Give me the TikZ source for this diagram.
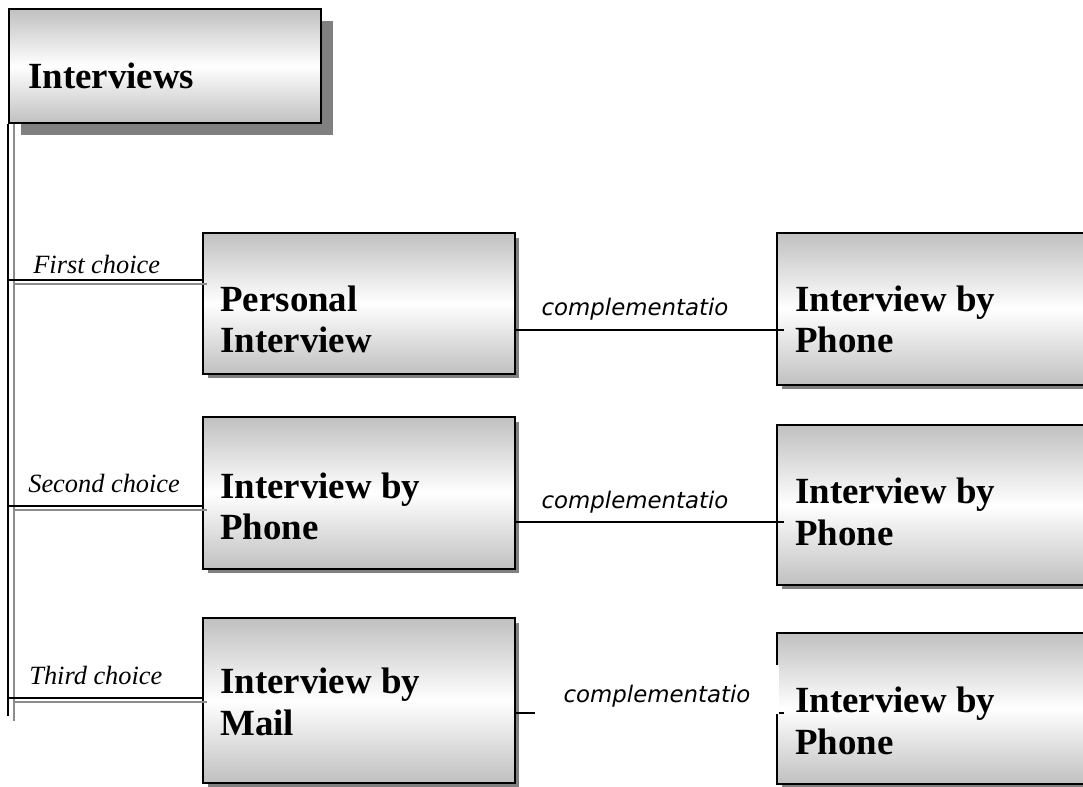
\documentclass[tikz,border=0pt]{standalone}
\usepackage{fontspec}
\setmainfont{Liberation Serif}
\newfontfamily\tahomalike{DejaVu Sans}
\usetikzlibrary{calc,shadows}

\definecolor{boxgray}{RGB}{192,192,192}
\definecolor{shadowgray}{RGB}{128,128,128}
\definecolor{linegray}{RGB}{140,140,140}

\tikzset{
  shadedbox/.style={draw=black, line width=1.1pt, top color=boxgray,
    bottom color=boxgray, middle color=white, inner sep=0pt},
  bigshadow/.style={drop shadow={shadow xshift=0.24cm, shadow yshift=-0.24cm,
    fill=shadowgray, opacity=1}},
  smallshadow/.style={drop shadow={shadow xshift=0.09cm, shadow yshift=-0.09cm,
    fill=shadowgray, opacity=1}},
  boxtext/.style={anchor=base west, inner sep=0pt, align=left,
    font=\fontsize{21}{23.5}\selectfont\bfseries},
  choicetext/.style={anchor=base west, inner sep=0pt,
    font=\fontsize{15}{17}\selectfont\itshape},
  comptext/.style={anchor=base, inner sep=0pt,
    font=\fontsize{13}{15}\selectfont\tahomalike\itshape},
  blackline/.style={draw=black, line width=0.8pt},
  grayline/.style={draw=linegray, line width=1.1pt},
}

\begin{document}
\begin{tikzpicture}[x=0.02cm, y=-0.02cm]
    \useasboundingbox (0,0) rectangle (1083,787);
    \clip (0,0) rectangle (1083,787);

    %Interviews
    \node[shadedbox, bigshadow, minimum width=6.24cm, minimum height=2.28cm] (interviews) at (165,66) {};
    \node[boxtext] (interviews-t) at (28,89) {Interviews};

    %first column (base = last line)
    \node[shadedbox, smallshadow, minimum width=6.24cm, minimum height=2.82cm] (personal) at (359,303.5) {};
    \node[boxtext] (personal-t) at (220,353) {Personal\\Interview};
    \node[shadedbox, smallshadow, minimum width=6.24cm, minimum height=3.04cm] (phone) at (359,493) {};
    \node[boxtext] (phone-t) at (220,540) {Interview by\\Phone};
    \node[shadedbox, smallshadow, minimum width=6.24cm, minimum height=3.30cm] (mail) at (359,700.5) {};
    \node[boxtext] (mail-t) at (220,735) {Interview by\\Mail};

    %second column
    \node[shadedbox, smallshadow, minimum width=6.8cm, minimum height=3.04cm] (phoneA) at (947,309) {};
    \node[boxtext] (phoneA-t) at (795,353) {Interview by\\Phone};
    \node[shadedbox, smallshadow, minimum width=6.8cm, minimum height=3.20cm] (phoneB) at (947,505) {};
    \node[boxtext] (phoneB-t) at (795,545) {Interview by\\Phone};
    \node[shadedbox, smallshadow, minimum width=6.8cm, minimum height=3.02cm] (phoneC) at (947,708.5) {};
    \node[boxtext] (phoneC-t) at (795,754) {Interview by\\Phone};

    %trunk
    \coordinate (trunkend) at (9,716);
    \coordinate (grayend) at (14,721);
    \draw[blackline] (interviews.south west) -- (interviews.south west |- trunkend);
    \draw[grayline] (grayend |- interviews.south) -- (grayend);

    %choices
    \draw[blackline] (interviews.south west |- 0,280) -- (personal.west |- 0,280);
    \draw[grayline] (grayend |- 0,284) -- ($(personal.west |- 0,284)+(5,0)$);
    \node[choicetext] (first) at (33,274) {First choice};
    \draw[blackline] (interviews.south west |- 0,506) -- (phone.west |- 0,506);
    \draw[grayline] (grayend |- 0,510) -- ($(phone.west |- 0,510)+(5,0)$);
    \node[choicetext] (second) at (28,493) {Second choice};
    \draw[blackline] (interviews.south west |- 0,698) -- (mail.west |- 0,698);
    \draw[grayline] (grayend |- 0,702) -- ($(mail.west |- 0,702)+(5,0)$);
    \node[choicetext] (third) at (29,684) {Third choice};

    %complementatio
    \draw[blackline] (personal.east |- 0,330) -- ($(phoneA.west |- 0,330)+(8,0)$);
    \node[comptext] (compA) at (635,316) {complementatio};
    \draw[blackline] (phone.east |- 0,522) -- ($(phoneB.west |- 0,522)+(8,0)$);
    \node[comptext] (compB) at (635,508) {complementatio};
    \draw[blackline] (mail.east |- 0,713) -- ($(phoneC.west |- 0,713)+(8,0)$);
    \node[comptext, fill=white, text width=4.88cm, align=center,
      text height=0.74cm, text depth=0.24cm] (compC) at (657,702) {complementatio};
\end{tikzpicture}
\end{document}
